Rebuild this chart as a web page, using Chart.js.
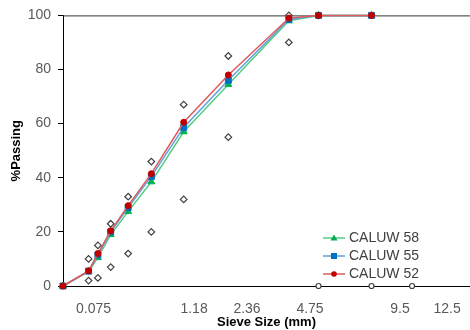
<!DOCTYPE html>
<html>
<head>
<meta charset="utf-8">
<script src="https://cdn.jsdelivr.net/npm/chart.js@4/dist/chart.umd.min.js"></script>
<style>
  html, body { margin: 0; padding: 0; background: #fff; }
  canvas { display: block; }
</style>
</head>
<body>
<canvas id="gradation" width="470" height="330"></canvas>
<script>
// 0.45 power gradation chart
const POWER = 0.45;

/* -------------------- DATA -------------------- */

const sieveSizes = [0, 0.075, 0.15, 0.3, 0.6, 1.18, 2.36, 4.75, 9.5, 12.5, 19];
const caluw58 = [0, 5.3, 10.5, 19, 27.5, 38.5, 57, 74.5, 98, 100, 100];
const caluw55 = [0, 5.5, 11.5, 20, 29, 40.5, 58.6, 76, 98.5, 100, 100];
const caluw52 = [0, 5.6, 12, 20.4, 29.7, 41.5, 60.5, 78, 99, 100, 100];

// control points (open diamonds)
const controlSieves = [0.075, 0.075, 0.15, 0.15, 0.3, 0.3, 0.6, 0.6, 1.18, 1.18, 2.36, 2.36, 4.75, 4.75, 9.5, 9.5, 12.5];
const controlValues = [2, 10, 3, 15, 7, 23, 12, 33, 20, 46, 32, 67, 55, 85, 90, 100, 100];

// open circles sitting on the axis
const baseSieves = [12.5, 19, 25];
const baseValues = [0, 0, 0];

// x tick labels and where they sit, in power-scale units
const xTickLabels = ['0.075', '1.18', '2.36', '4.75', '9.5', '12.5'];
const xTickPositions = [0.372, 1.598, 2.244, 3.012, 4.11, 4.683];
const yTicks = [0, 20, 40, 60, 80, 100];

/* -------------------- HELPERS -------------------- */

const FONT = "'Liberation Sans', Arial, sans-serif";

function toPoints(sizes, values) {
    return sizes.map((d, i) => ({ x: Math.pow(d, POWER), y: values[i] }));
}

// small line + marker swatch for the legend
function legendSwatch(lineColor, markColor, shape) {
    const c = document.createElement('canvas');
    c.width = 22;
    c.height = 10;
    const ctx = c.getContext('2d');
    ctx.strokeStyle = lineColor;
    ctx.lineWidth = 1.5;
    ctx.beginPath();
    ctx.moveTo(0, 5);
    ctx.lineTo(22, 5);
    ctx.stroke();
    ctx.fillStyle = markColor;
    ctx.beginPath();
    if (shape === 'triangle') {
        ctx.moveTo(11, 1.5);
        ctx.lineTo(14.5, 7.5);
        ctx.lineTo(7.5, 7.5);
        ctx.closePath();
    } else if (shape === 'rect') {
        ctx.rect(8, 2, 6, 6);
    } else {
        ctx.arc(11, 5, 2.8, 0, Math.PI * 2);
    }
    ctx.fill();
    return c;
}

const series = [
    { label: 'CALUW 52', values: caluw52, line: '#DE5A5E', mark: '#C00000', style: 'circle', radius: 3 },
    { label: 'CALUW 55', values: caluw55, line: '#5FA2DA', mark: '#0070C0', style: 'rect', radius: 4.2 },
    { label: 'CALUW 58', values: caluw58, line: '#55CC85', mark: '#00B050', style: 'triangle', radius: 4 }
];

const swatches = series.map(s => legendSwatch(s.line, s.mark, s.style));

/* -------------------- CHART -------------------- */

const datasets = series.map(s => ({
    label: s.label,
    data: toPoints(sieveSizes, s.values),
    showLine: true,
    borderColor: s.line,
    borderWidth: 1.5,
    pointStyle: s.style,
    pointRadius: s.radius,
    pointBackgroundColor: s.mark,
    pointBorderColor: s.mark,
    pointBorderWidth: 1,
    clip: false
}));

datasets.push({
    label: 'control',
    data: toPoints(controlSieves, controlValues),
    showLine: false,
    pointStyle: 'rectRot',
    pointRadius: 3.3,
    pointBackgroundColor: '#fff',
    pointBorderColor: '#404040',
    pointBorderWidth: 1.2,
    clip: false
});

datasets.push({
    label: 'base',
    data: toPoints(baseSieves, baseValues),
    showLine: false,
    pointStyle: 'circle',
    pointRadius: 2.5,
    pointBackgroundColor: '#fff',
    pointBorderColor: '#404040',
    pointBorderWidth: 1.2,
    clip: false
});

const frameLine = {
    id: 'frameLine',
    beforeDatasetsDraw(chart) {
        const { ctx, chartArea } = chart;
        ctx.save();
        ctx.strokeStyle = '#333';
        ctx.lineWidth = 1;
        ctx.beginPath();
        ctx.moveTo(chartArea.left, chartArea.top + 0.5);
        ctx.lineTo(chartArea.right, chartArea.top + 0.5);
        ctx.stroke();
        ctx.restore();
    }
};

// put the legend box in the lower right of the plot
const legendPlacement = {
    id: 'legendPlacement',
    afterLayout(chart) {
        const lg = chart.legend;
        if (!lg) return;
        lg.left = 322;
        lg.top = 227;
        lg.right = lg.left + lg.width;
        lg.bottom = lg.top + lg.height;
    }
};

new Chart(document.getElementById('gradation'), {
    type: 'scatter',
    data: { datasets },
    plugins: [frameLine, legendPlacement],
    options: {
        responsive: false,
        animation: false,
        devicePixelRatio: 1,
        layout: {
            autoPadding: false,
            padding: { top: 13, right: 0, bottom: 0, left: 0 }
        },
        plugins: {
            tooltip: { enabled: false },
            legend: {
                position: 'chartArea',
                align: 'start',
                reverse: true,
                labels: {
                    usePointStyle: true,
                    pointStyleWidth: 16,
                    padding: 4,
                    color: '#404040',
                    font: { family: FONT, size: 14 },
                    filter: item => item.datasetIndex < 3,
                    generateLabels(chart) {
                        const items = Chart.defaults.plugins.legend.labels.generateLabels(chart);
                        items.forEach(item => {
                            if (item.datasetIndex < 3) item.pointStyle = swatches[item.datasetIndex];
                        });
                        return items;
                    }
                }
            }
        },
        scales: {
            x: {
                type: 'linear',
                min: 0,
                max: 4.963,
                afterBuildTicks: scale => {
                    scale.ticks = xTickPositions.map(v => ({ value: v }));
                },
                afterFit: scale => {
                    scale.height = 44;
                    scale.paddingLeft = 0;
                    scale.paddingRight = 0;
                },
                grid: { display: false },
                border: { display: true, color: '#000', width: 1 },
                ticks: {
                    autoSkip: false,
                    maxRotation: 0,
                    padding: 7,
                    color: '#595959',
                    font: { family: FONT, size: 14 },
                    callback: (value, i) => xTickLabels[i]
                },
                title: {
                    display: true,
                    text: 'Sieve Size (mm)',
                    color: '#000',
                    padding: { top: 0, bottom: 0 },
                    font: { family: FONT, size: 13, weight: 'bold' }
                }
            },
            y: {
                min: 0,
                max: 100,
                afterBuildTicks: scale => {
                    scale.ticks = yTicks.map(v => ({ value: v }));
                },
                afterFit: scale => { scale.width = 63; },
                grid: {
                    drawOnChartArea: false,
                    drawTicks: true,
                    tickLength: 5,
                    color: '#000'
                },
                border: { display: true, color: '#000', width: 1 },
                ticks: {
                    padding: 7,
                    color: '#595959',
                    font: { family: FONT, size: 14 }
                },
                title: {
                    display: true,
                    text: '%Passing',
                    color: '#000',
                    padding: { top: 9, bottom: 0 },
                    font: { family: FONT, size: 13, weight: 'bold' }
                }
            }
        }
    }
});
</script>
</body>
</html>
